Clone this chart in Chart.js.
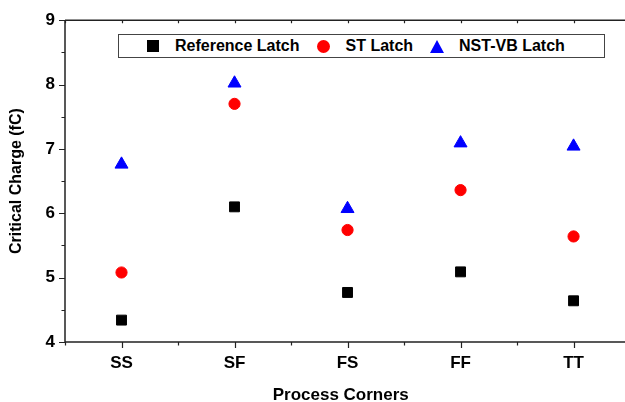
<!DOCTYPE html>
<html>
<head>
<meta charset="utf-8">
<script src="https://cdn.jsdelivr.net/npm/chart.js@4/dist/chart.umd.min.js"></script>
<style>
  html, body { margin: 0; padding: 0; background: #fff; overflow: hidden; }
  #wrap { position: relative; width: 625px; height: 402px; }
  #legend {
    position: absolute; left: 118px; top: 34px; width: 458px; height: 22px;
    border: 1px solid #444; background: #fff;
    display: flex; align-items: center; padding-left: 27px; box-sizing: content-box;
    font: bold 16px "Liberation Sans", Arial, sans-serif; color: #000;
  }
  #legend .item { display: flex; align-items: center; margin-right: 17px; }
  #legend .mk { width: 14px; height: 14px; margin-right: 15px; display: flex; align-items: center; justify-content: center; }
  #legend .rect { width: 12px; height: 12px; }
  #legend .circle { width: 13px; height: 13px; border-radius: 50%; }
  #legend .triangle { width: 0; height: 0; border-left: 7.5px solid transparent; border-right: 7.5px solid transparent; border-bottom: 13px solid; }
</style>
</head>
<body>
<div id="wrap">
  <canvas id="chart" width="625" height="402"></canvas>
  <div id="legend"></div>
</div>
<script>
const corners = ['SS', 'SF', 'FS', 'FF', 'TT'];
const referenceLatch = [4.34, 6.10, 4.77, 5.09, 4.64];
const stLatch = [5.08, 7.70, 5.74, 6.36, 5.64];
const nstVbLatch = [6.76, 8.02, 6.07, 7.09, 7.04];
const yTicks = [4, 5, 6, 7, 8, 9];

const font = '"Liberation Sans", Arial, sans-serif';
const axisColor = '#222';

function points(values) {
    return values.map((v, i) => ({ x: i, y: v }));
}

// axis lines and major/minor tick marks drawn like Origin
const axesPlugin = {
    id: 'originAxes',
    afterDatasetsDraw(chart) {
        const { ctx, chartArea: a, scales: { x, y } } = chart;
        ctx.save();
        ctx.strokeStyle = axisColor;
        ctx.lineWidth = 1.5;
        ctx.beginPath();
        ctx.moveTo(a.left, a.top);
        ctx.lineTo(a.left, a.bottom);
        ctx.moveTo(a.left, a.bottom);
        ctx.lineTo(625, a.bottom);
        ctx.moveTo(a.left, a.top);
        ctx.lineTo(625, a.top);
        ctx.stroke();

        ctx.lineWidth = 1.2;
        ctx.beginPath();
        for (let v = y.min; v <= y.max + 0.001; v += 0.5) {
            const py = Math.round(y.getPixelForValue(v)) + 0.5;
            const len = Number.isInteger(v) ? 6 : 3.5;
            ctx.moveTo(a.left, py);
            ctx.lineTo(a.left - len, py);
        }
        for (let v = -0.5; x.getPixelForValue(v) <= 625; v += 0.5) {
            const px = Math.round(x.getPixelForValue(v)) + 0.5;
            const len = Number.isInteger(v) ? 6 : 3.5;
            ctx.moveTo(px, a.bottom);
            ctx.lineTo(px, a.bottom + len);
            ctx.moveTo(px, a.top);
            ctx.lineTo(px, a.top + 3);
        }
        ctx.stroke();
        ctx.restore();
    }
};

const chart = new Chart(document.getElementById('chart'), {
    type: 'scatter',
    data: {
        datasets: [{
            label: 'Reference Latch',
            data: points(referenceLatch),
            pointStyle: 'rect',
            pointRadius: 7,
            backgroundColor: '#000000',
            borderColor: '#000000',
            borderWidth: 1
        }, {
            label: 'ST Latch',
            data: points(stLatch),
            pointStyle: 'circle',
            pointRadius: 5.6,
            backgroundColor: '#ff0000',
            borderColor: '#ff0000',
            borderWidth: 1
        }, {
            label: 'NST-VB Latch',
            data: points(nstVbLatch),
            pointStyle: 'triangle',
            pointRadius: 7.5,
            backgroundColor: '#0000ff',
            borderColor: '#0000ff',
            borderWidth: 1
        }]
    },
    options: {
        responsive: false,
        animation: false,
        layout: { padding: { top: 19, left: 0, right: 0, bottom: 0 } },
        plugins: {
            legend: { display: false },
            tooltip: { enabled: false }
        },
        scales: {
            x: {
                type: 'linear',
                min: -0.5,
                max: 4.38,
                afterFit: s => { s.height = 60; },
                afterBuildTicks: s => { s.ticks = corners.map((c, i) => ({ value: i })); },
                grid: { display: false, drawTicks: false },
                border: { display: false },
                ticks: {
                    autoSkip: false,
                    maxRotation: 0,
                    padding: 11,
                    color: '#000',
                    font: { family: font, size: 17, weight: 'bold' },
                    callback: v => corners[v]
                },
                title: {
                    display: true,
                    text: 'Process Corners',
                    color: '#000',
                    font: { family: font, size: 17, weight: 'bold', lineHeight: 0.8 },
                    padding: { top: 0, bottom: 0 }
                }
            },
            y: {
                min: 4,
                max: 9,
                afterFit: s => { s.width = 65; },
                afterBuildTicks: s => { s.ticks = yTicks.map(v => ({ value: v })); },
                grid: { display: false, drawTicks: false },
                border: { display: false },
                ticks: {
                    padding: 10,
                    color: '#000',
                    font: { family: font, size: 17, weight: 'bold' }
                },
                title: {
                    display: true,
                    text: 'Critical Charge (fC)',
                    color: '#000',
                    font: { family: font, size: 16, weight: 'bold' },
                    padding: { top: 7, bottom: 0 }
                }
            }
        }
    },
    plugins: [axesPlugin]
});

// legend box inside the plot, built from the datasets
const legend = document.getElementById('legend');
chart.data.datasets.forEach(ds => {
    const item = document.createElement('div');
    item.className = 'item';
    const mk = document.createElement('span');
    mk.className = 'mk';
    const shape = document.createElement('span');
    shape.className = ds.pointStyle;
    if (ds.pointStyle === 'triangle') shape.style.borderBottomColor = ds.backgroundColor;
    else shape.style.background = ds.backgroundColor;
    mk.appendChild(shape);
    const label = document.createElement('span');
    label.textContent = ds.label;
    item.appendChild(mk);
    item.appendChild(label);
    legend.appendChild(item);
});
</script>
</body>
</html>
